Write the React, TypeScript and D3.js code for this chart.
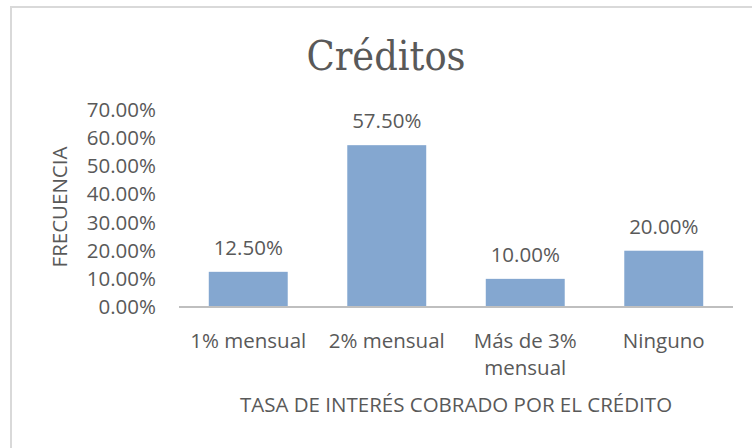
import React, { useEffect, useRef } from 'react';
import * as d3 from 'd3';

// datos
const categories = ['1% mensual', '2% mensual', 'Más de 3% mensual', 'Ninguno'];
const labelLines = [['1% mensual'], ['2% mensual'], ['Más de 3%', 'mensual'], ['Ninguno']];
const values = [0.125, 0.575, 0.1, 0.2];
const yTicks = [0, 0.1, 0.2, 0.3, 0.4, 0.5, 0.6, 0.7];

const title = 'Créditos';
const xTitle = 'TASA DE INTERÉS COBRADO POR EL CRÉDITO';
const yTitle = 'FRECUENCIA';

const App = () => {
    const svgRef = useRef<SVGSVGElement>(null);

    useEffect(() => {
        const width = 752;
        const height = 448;
        const margin = { top: 110, right: 19, bottom: 141, left: 179 };
        const textColor = '#595959';
        const font = '"Open Sans", sans-serif';
        const fs = 20.5;

        const svg = d3.select(svgRef.current)
            .attr('width', width)
            .attr('height', height);

        svg.selectAll('*').remove();

        svg.append('rect')
            .attr('width', width)
            .attr('height', height)
            .attr('fill', '#fff');

        // marco del gráfico
        svg.append('path')
            .attr('d', `M11,${height} V7 H${width}`)
            .attr('fill', 'none')
            .attr('stroke', '#d9d9d9')
            .attr('stroke-width', 2);

        const x = d3.scaleBand()
            .domain(categories)
            .range([margin.left, width - margin.right])
            .paddingInner(0.43)
            .paddingOuter(0.215);

        const y = d3.scaleLinear()
            .domain([0, 0.7])
            .range([height - margin.bottom, margin.top]);

        svg.append('text')
            .attr('x', 386)
            .attr('y', 70)
            .attr('text-anchor', 'middle')
            .attr('font-family', '"DejaVu Serif Condensed", serif')
            .attr('font-size', 41)
            .attr('fill', textColor)
            .text(title);

        // eje Y sin línea
        const yAxis = svg.append('g')
            .attr('transform', `translate(${margin.left - 23},0)`)
            .call(d3.axisLeft(y).tickValues(yTicks).tickSize(0).tickPadding(0).tickFormat(d => (Number(d) * 100).toFixed(2) + '%'));
        yAxis.select('.domain').remove();
        yAxis.selectAll('text')
            .attr('font-family', font)
            .attr('font-size', fs)
            .attr('fill', textColor);

        svg.append('g')
            .selectAll('rect')
            .data(values)
            .join('rect')
            .attr('x', (d, i) => x(categories[i]))
            .attr('y', d => y(d))
            .attr('width', x.bandwidth())
            .attr('height', d => y(0) - y(d))
            .attr('fill', '#84a7d0');

        svg.append('line')
            .attr('x1', margin.left)
            .attr('x2', width - margin.right)
            .attr('y1', y(0))
            .attr('y2', y(0))
            .attr('stroke', '#bfbfbf')
            .attr('stroke-width', 2);

        // etiquetas de datos
        svg.append('g')
            .selectAll('text')
            .data(values)
            .join('text')
            .attr('x', (d, i) => x(categories[i]) + x.bandwidth() / 2)
            .attr('y', d => y(d) - 17)
            .attr('text-anchor', 'middle')
            .attr('font-family', font)
            .attr('font-size', fs)
            .attr('fill', textColor)
            .text(d => (d * 100).toFixed(2) + '%');

        // etiquetas de categorías
        const catG = svg.append('g')
            .selectAll('text')
            .data(labelLines)
            .join('text')
            .attr('x', (d, i) => x(categories[i]) + x.bandwidth() / 2)
            .attr('y', 348)
            .attr('text-anchor', 'middle')
            .attr('font-family', font)
            .attr('font-size', fs)
            .attr('fill', textColor);
        catG.selectAll('tspan')
            .data(d => d)
            .join('tspan')
            .attr('x', function () { return (this.parentNode as SVGTextElement).getAttribute('x'); })
            .attr('dy', (d, i) => (i === 0 ? 0 : 27))
            .text(d => d);

        svg.append('text')
            .attr('x', (margin.left + width - margin.right) / 2)
            .attr('y', 412)
            .attr('text-anchor', 'middle')
            .attr('font-family', font)
            .attr('font-size', fs)
            .attr('fill', textColor)
            .text(xTitle);

        svg.append('text')
            .attr('transform', `translate(67,207) rotate(-90)`)
            .attr('text-anchor', 'middle')
            .attr('font-family', font)
            .attr('font-size', fs)
            .attr('fill', textColor)
            .text(yTitle);
    }, []);

    return (
        <React.Fragment>
            <svg ref={svgRef} style={{ position: 'absolute', left: 0, top: 0 }} />
        </React.Fragment>
    );
};

export default App;
